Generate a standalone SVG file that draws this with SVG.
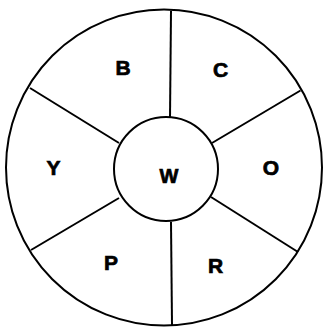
<svg xmlns="http://www.w3.org/2000/svg" width="323" height="327" viewBox="0 0 323 327">
<style>
.ln{stroke:#000;stroke-width:2;fill:none}
.t{font-family:"Liberation Sans",Arial,sans-serif;font-weight:bold;font-size:21px;text-anchor:middle;fill:#000;stroke:#000;stroke-width:0.7}
</style>
<rect width="323" height="327" fill="#fff"/>
<g id="outer"><circle class="ln" cx="164" cy="167.5" r="158"/></g>
<g id="connectors">
<line class="ln" x1="171" y1="11" x2="170" y2="118"/>
<line class="ln" x1="300.5" y1="90.5" x2="212" y2="143"/>
<line class="ln" x1="298" y1="252" x2="211" y2="197"/>
<line class="ln" x1="171" y1="222" x2="172" y2="325"/>
<line class="ln" x1="31" y1="250" x2="119" y2="198"/>
<line class="ln" x1="30" y1="88" x2="119" y2="143"/>
</g>
<g id="W"><circle class="ln" cx="166" cy="169" r="52"/><text class="t" x="169" y="183" style="font-size:20px">W</text></g>
<g id="B"><text class="t" x="123" y="75">B</text></g>
<g id="C"><text class="t" x="220.5" y="77">C</text></g>
<g id="O"><text class="t" x="271" y="175">O</text></g>
<g id="R"><text class="t" x="215.5" y="273">R</text></g>
<g id="P"><text class="t" x="111" y="270">P</text></g>
<g id="Y"><text class="t" x="53.5" y="175">Y</text></g>
</svg>
